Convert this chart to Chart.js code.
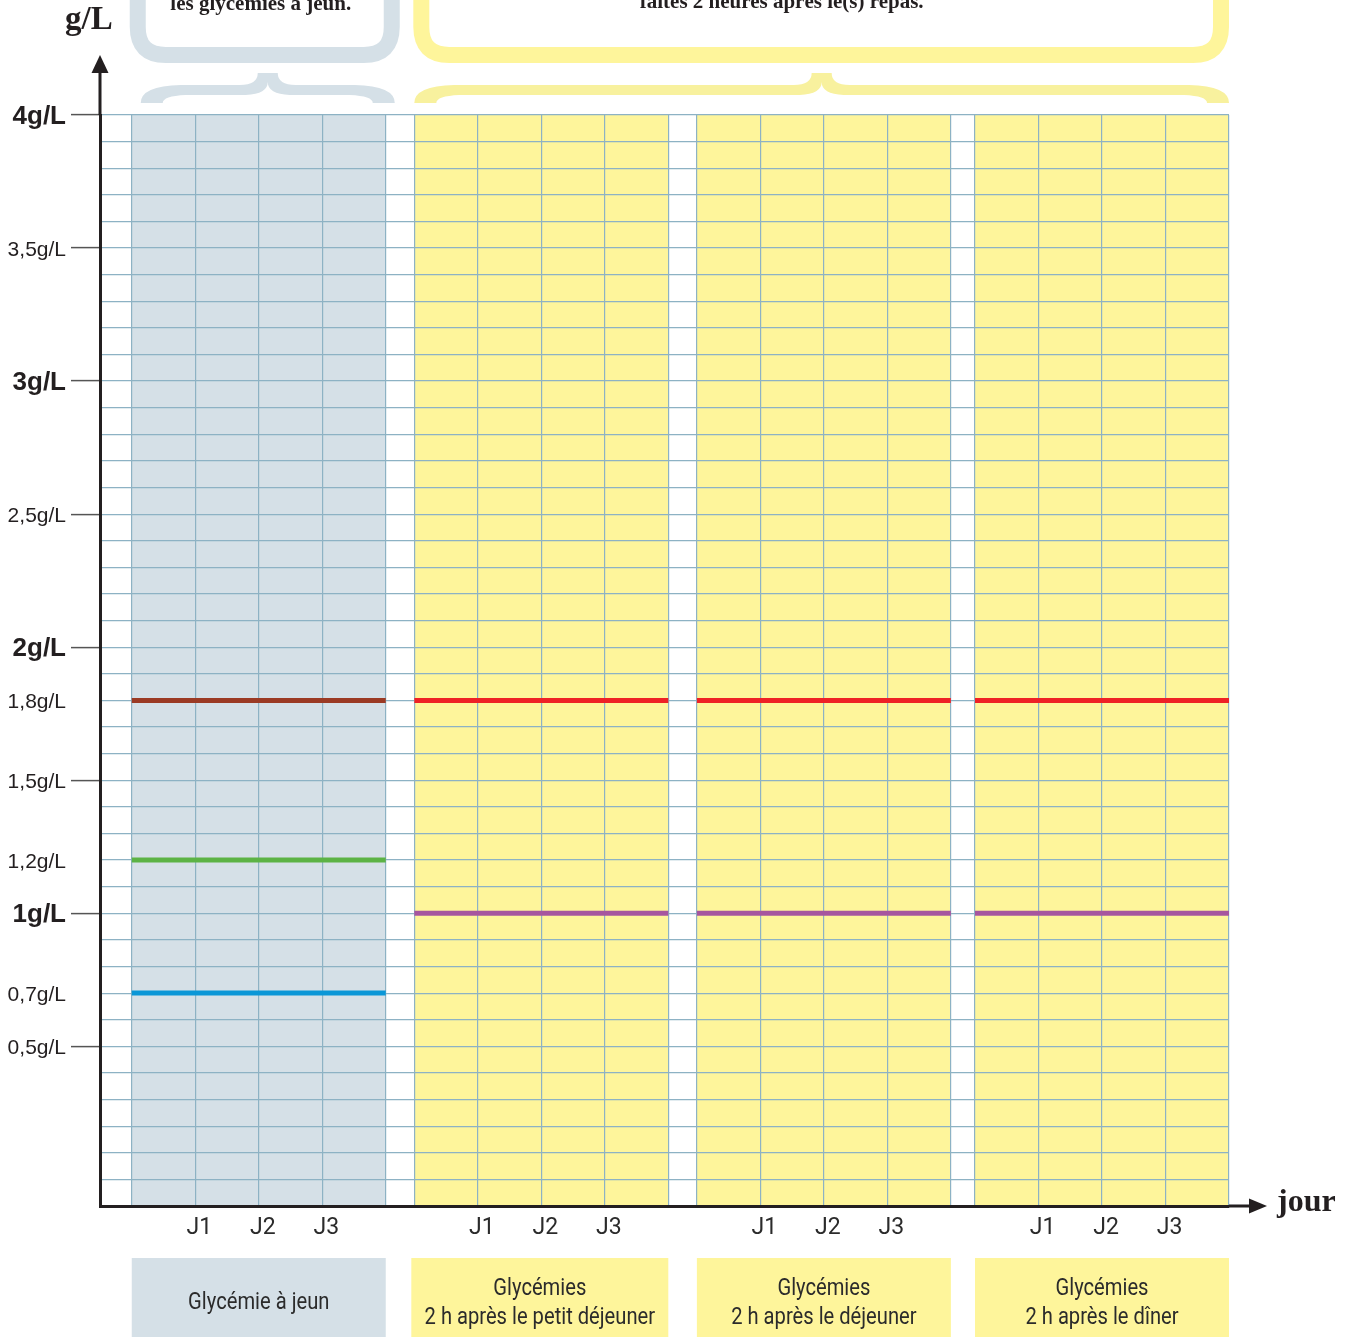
<!DOCTYPE html>
<html>
<head>
<meta charset="utf-8">
<script src="https://cdn.jsdelivr.net/npm/chart.js@4.4.1/dist/chart.umd.min.js"></script>
<style>
  html, body { margin: 0; padding: 0; background: #fff; }
  #wrap { width: 1354px; height: 1337px; position: relative; }
</style>
</head>
<body>
<div id="wrap"><canvas id="glyChart"></canvas></div>
<script>
// données du graphique
const days = ["J1", "J2", "J3"];
const categories = [
  ["Glycémie à jeun"],
  ["Glycémies", "2 h après le petit déjeuner"],
  ["Glycémies", "2 h après le déjeuner"],
  ["Glycémies", "2 h après le dîner"]
];
const headers = ["les glycémies à jeun.", "faites 2 heures après le(s) repas."];
const fastingLimits = [1.8, 1.2, 0.7];
const breakfastLimits = [1.8, 1.0];
const lunchLimits = [1.8, 1.0];
const dinnerLimits = [1.8, 1.0];
const yLabels = [4, 3.5, 3, 2.5, 2, 1.8, 1.5, 1.2, 1, 0.7, 0.5];
const yMajor = [4, 3.5, 3, 2.5, 2, 1.5, 1, 0.5];
const yBold = [4, 3, 2, 1];

// mise en page (unités de colonne sur l'axe x)
const groupStart = [0.5, 4.95, 9.4, 13.78];
const colsPerGroup = 4;
const xMax = 17.78;
const groupFill = ["#d5e0e7", "#fef59b", "#fef59b", "#fef59b"];
const limitsByGroup = [fastingLimits, breakfastLimits, lunchLimits, dinnerLimits];
const colorsByGroup = [
  ["#9b3a24", "#5cb345", "#0b97d7"],
  ["#ee2125", "#a6569f"],
  ["#ee2125", "#a6569f"],
  ["#ee2125", "#a6569f"]
];
const ink = "#231f20";
const gridBlue = "#8db2c4";
const narrow = 'Roboto, "Liberation Sans Narrow", "DejaVu Sans Condensed", sans-serif';
const serif = '"Liberation Serif", "DejaVu Serif", serif';
const sans = '"Liberation Sans", Arial, sans-serif';

const key = v => Math.round(v * 10);
const fmt = v => String(v).replace(".", ",") + "g/L";

const datasets = [];
limitsByGroup.forEach((limits, g) => {
  limits.forEach((v, i) => {
    datasets.push({
      data: [{ x: groupStart[g], y: v }, { x: groupStart[g] + colsPerGroup, y: v }],
      showLine: true,
      borderColor: colorsByGroup[g][i],
      borderWidth: 5,
      pointRadius: 0,
      borderCapStyle: "butt"
    });
  });
});

const xTicks = [];
groupStart.forEach(s => { for (let i = 0; i <= colsPerGroup; i++) xTicks.push(s + i); });

const backgrounds = {
  id: "backgrounds",
  beforeDraw(chart) {
    const { ctx, chartArea, scales } = chart;
    ctx.save();
    ctx.fillStyle = "#fff";
    ctx.fillRect(0, 0, chart.width, chart.height);
    groupStart.forEach((s, g) => {
      const x0 = scales.x.getPixelForValue(s);
      const x1 = scales.x.getPixelForValue(s + colsPerGroup);
      ctx.fillStyle = groupFill[g];
      ctx.fillRect(x0, chartArea.top, x1 - x0, chartArea.bottom - chartArea.top);
    });
    ctx.restore();
  }
};

function roundBox(ctx, x0, x1, y1, r) {
  const y0 = -60;
  ctx.beginPath();
  ctx.moveTo(x0, y0);
  ctx.lineTo(x0, y1 - r);
  ctx.quadraticCurveTo(x0, y1, x0 + r, y1);
  ctx.lineTo(x1 - r, y1);
  ctx.quadraticCurveTo(x1, y1, x1, y1 - r);
  ctx.lineTo(x1, y0);
  ctx.stroke();
}

function brace(ctx, x0, x1) {
  const cx = (x0 + x1) / 2;
  ctx.beginPath();
  ctx.moveTo(x0, 103);
  ctx.quadraticCurveTo(x0, 86, x0 + 40, 85);
  ctx.lineTo(cx - 28, 85);
  ctx.quadraticCurveTo(cx - 10, 85, cx - 10, 73);
  ctx.lineTo(cx + 10, 73);
  ctx.quadraticCurveTo(cx + 10, 85, cx + 28, 85);
  ctx.lineTo(x1 - 40, 85);
  ctx.quadraticCurveTo(x1, 86, x1, 103);
  ctx.lineTo(x1 - 22, 103);
  ctx.quadraticCurveTo(x1 - 22, 96, x1 - 45, 95);
  ctx.lineTo(cx + 22, 95);
  ctx.quadraticCurveTo(cx, 94, cx, 82);
  ctx.quadraticCurveTo(cx, 94, cx - 22, 95);
  ctx.lineTo(x0 + 45, 95);
  ctx.quadraticCurveTo(x0 + 22, 96, x0 + 22, 103);
  ctx.closePath();
  ctx.fill();
}

// texte resserré horizontalement (police condensée)
function narrowText(ctx, text, x, y, sx) {
  ctx.save();
  ctx.translate(x, y);
  ctx.scale(sx, 1);
  ctx.fillText(text, 0, 0);
  ctx.restore();
}

const decorations = {
  id: "decorations",
  afterDraw(chart) {
    const { ctx, chartArea, scales } = chart;
    const px = v => scales.x.getPixelForValue(v);
    const ax = chartArea.left, ay = chartArea.bottom;
    ctx.save();

    // flèches des axes
    ctx.strokeStyle = ink;
    ctx.fillStyle = ink;
    ctx.lineWidth = 3;
    ctx.beginPath();
    ctx.moveTo(ax, chartArea.top);
    ctx.lineTo(ax, 70);
    ctx.moveTo(chartArea.right, ay);
    ctx.lineTo(1252, ay);
    ctx.stroke();
    ctx.beginPath();
    ctx.moveTo(ax, 55); ctx.lineTo(ax - 8.5, 73); ctx.lineTo(ax + 8.5, 73);
    ctx.closePath(); ctx.fill();
    ctx.beginPath();
    ctx.moveTo(1267, ay); ctx.lineTo(1249, ay - 7.5); ctx.lineTo(1249, ay + 7.5);
    ctx.closePath(); ctx.fill();

    ctx.font = "bold 33px " + serif;
    ctx.textAlign = "left";
    ctx.textBaseline = "alphabetic";
    ctx.fillText("g/L", 65, 29);
    ctx.font = "bold 32px " + serif;
    ctx.fillText("jour", 1277, 1211);

    // cadres du haut
    const g1a = px(groupStart[0]), g1b = px(groupStart[0] + colsPerGroup);
    const g2a = px(groupStart[1]), g4b = px(groupStart[3] + colsPerGroup);
    ctx.lineWidth = 16;
    ctx.strokeStyle = groupFill[0];
    roundBox(ctx, g1a + 6, g1b + 6, 55, 28);
    ctx.strokeStyle = groupFill[1];
    roundBox(ctx, g2a + 7, g4b - 8, 55, 28);
    ctx.fillStyle = groupFill[0];
    brace(ctx, g1a + 9, g1b + 9);
    ctx.fillStyle = "#f8f19e";
    brace(ctx, g2a, g4b);

    ctx.fillStyle = ink;
    ctx.font = "bold 21px " + serif;
    ctx.textAlign = "center";
    ctx.fillText(headers[0], (g1a + g1b) / 2 + 2, 10);
    ctx.fillText(headers[1], (g2a + g4b) / 2 - 40, 8);

    // cases des catégories
    groupStart.forEach((s, g) => {
      const x0 = px(s) + (g === 1 ? -3 : 0);
      const x1 = px(s + colsPerGroup);
      ctx.fillStyle = groupFill[g];
      ctx.fillRect(x0, 1258, x1 - x0, 1337 - 1258);
      ctx.fillStyle = "#2b2b2b";
      ctx.font = "24px " + narrow;
      ctx.textAlign = "center";
      ctx.textBaseline = "alphabetic";
      const cx = (x0 + x1) / 2;
      const lines = categories[g];
      if (lines.length === 1) {
        narrowText(ctx, lines[0], cx, 1309, 0.84);
      } else {
        narrowText(ctx, lines[0], cx, 1295, 0.84);
        narrowText(ctx, lines[1], cx, 1324, 0.84);
      }
    });
    ctx.restore();
  }
};

new Chart(document.getElementById("glyChart"), {
  type: "scatter",
  data: { datasets },
  plugins: [backgrounds, decorations],
  options: {
    responsive: true,
    maintainAspectRatio: false,
    animation: false,
    layout: { padding: { top: 115, right: 125, left: 0, bottom: 0 } },
    plugins: { legend: { display: false }, tooltip: { enabled: false } },
    scales: {
      x: {
        type: "linear",
        min: 0,
        max: xMax,
        afterBuildTicks: s => { s.ticks = xTicks.map(v => ({ value: v })); },
        afterFit: s => { s.height = 131; },
        border: { color: ink, width: 3 },
        grid: { color: gridBlue, lineWidth: 1.2, drawTicks: false },
        ticks: {
          autoSkip: false,
          maxRotation: 0,
          padding: 8,
          labelOffset: 4,
          color: "#2b2b2b",
          font: { family: narrow, size: 23 },
          callback: (v, i) => {
            const k = i % (colsPerGroup + 1);
            return k >= 1 && k <= days.length ? days[k - 1] : "";
          }
        }
      },
      y: {
        min: -0.1,
        max: 4,
        afterBuildTicks: s => {
          const t = [];
          for (let i = -1; i <= 40; i++) t.push({ value: i / 10 });
          s.ticks = t;
        },
        afterFit: s => { s.width = 100; },
        border: { color: ink, width: 3 },
        grid: {
          color: gridBlue,
          lineWidth: 1.2,
          tickLength: 29,
          tickWidth: 1.5,
          tickColor: c => (c.tick && yMajor.some(m => key(m) === key(c.tick.value)) ? "#555" : "rgba(0,0,0,0)")
        },
        ticks: {
          autoSkip: false,
          padding: 5,
          labelOffset: 2,
          color: ink,
          font: c => {
            const bold = c.tick && yBold.some(m => key(m) === key(c.tick.value));
            return bold ? { family: sans, size: 26, weight: "bold" } : { family: sans, size: 21 };
          },
          callback: v => {
            const hit = yLabels.find(m => key(m) === key(v));
            return hit === undefined ? "" : fmt(hit);
          }
        }
      }
    }
  }
});
</script>
</body>
</html>
